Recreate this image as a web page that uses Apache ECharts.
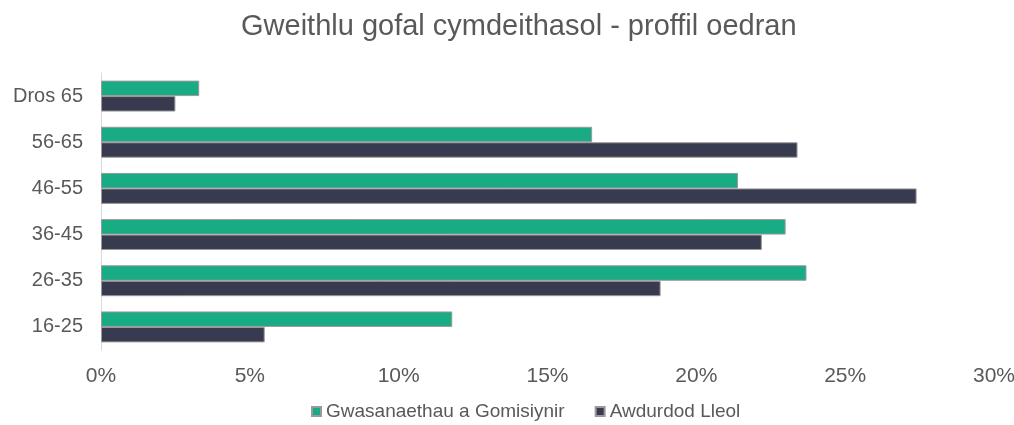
<!DOCTYPE html>
<html>
<head>
<meta charset="utf-8">
<script src="https://cdn.jsdelivr.net/npm/echarts@6/dist/echarts.min.js"></script>
<style>
  html, body { margin: 0; padding: 0; background: #fff; }
  #chart { width: 1014px; height: 425px; }
</style>
</head>
<body>
<div id="chart"></div>
<script>
// categorïau, o'r brig i'r gwaelod
const categories = ['Dros 65', '56-65', '46-55', '36-45', '26-35', '16-25']
const seriesNames = ['Gwasanaethau a Gomisiynir', 'Awdurdod Lleol']
// canrannau
const commissioned = [3.3, 16.5, 21.4, 23.0, 23.7, 11.8]
const localAuthority = [2.5, 23.4, 27.4, 22.2, 18.8, 5.5]

const textColor = '#595959'
const font = 'Liberation Sans, Arial, sans-serif'

const chart = echarts.init(document.getElementById('chart'))

chart.setOption({
  animation: false,
  textStyle: { fontFamily: font },
  title: {
    text: 'Gweithlu gofal cymdeithasol - proffil oedran',
    left: 236,
    top: 7,
    textStyle: { fontFamily: font, fontSize: 29, fontWeight: 'normal', color: textColor }
  },
  legend: {
    bottom: -1,
    left: 306,
    icon: 'rect',
    itemWidth: 9,
    itemHeight: 9,
    itemGap: 30,
    textStyle: { fontFamily: font, fontSize: 19, color: textColor },
    data: seriesNames
  },
  grid: { left: 101, right: 20, top: 73, bottom: 75, outerBoundsMode: 'none' },
  xAxis: {
    type: 'value',
    min: 0,
    max: 30,
    interval: 5,
    axisLine: { show: false },
    axisTick: { show: false },
    splitLine: { show: false },
    axisLabel: {
      formatter: '{value}%',
      fontFamily: font,
      fontSize: 21,
      color: textColor,
      margin: 16
    }
  },
  yAxis: {
    type: 'category',
    inverse: true,
    data: categories,
    axisLine: { show: true, lineStyle: { color: '#d9d9d9', width: 1 } },
    axisTick: { show: false },
    axisLabel: { fontFamily: font, fontSize: 20, color: textColor, margin: 18 }
  },
  series: [
    {
      name: seriesNames[0],
      type: 'bar',
      data: commissioned,
      barGap: '0%',
      barCategoryGap: '33%',
      itemStyle: { color: '#18ab84', borderColor: '#9a9a9a', borderWidth: 1 }
    },
    {
      name: seriesNames[1],
      type: 'bar',
      data: localAuthority,
      itemStyle: { color: '#383a4f', borderColor: '#9a9a9a', borderWidth: 1 }
    }
  ]
})
</script>
</body>
</html>
